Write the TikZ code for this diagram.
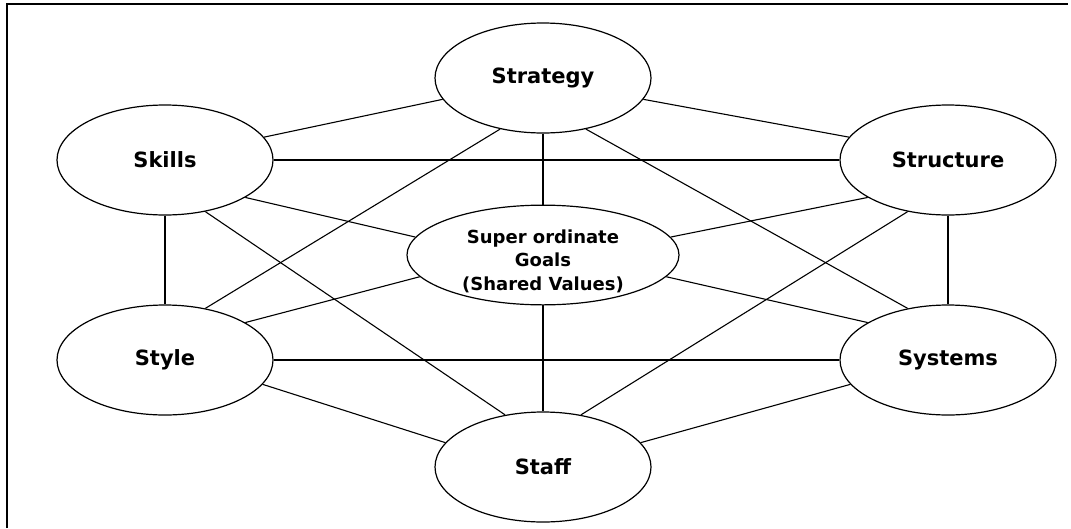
\documentclass[tikz,border=0pt]{standalone}
\usepackage{fontspec}
\setmainfont{DejaVu Sans}
\usepackage{tikz}
\usetikzlibrary{shapes.geometric}

\tikzset{
  sbox/.style={draw, ellipse, line width=1.2pt, minimum width=216pt, minimum height=110pt,
    inner sep=0pt, font=\bfseries\fontsize{21}{25}\selectfont},
  goalbox/.style={draw, ellipse, line width=1.2pt, minimum width=272pt, minimum height=95pt,
    inner sep=0pt, font=\bfseries\fontsize{18}{23.5}\selectfont},
  link/.style={line width=1.1pt}
}

\begin{document}
\begin{tikzpicture}[x=1pt, y=-1pt]
	\useasboundingbox (0,0) rectangle (1071,528);
	\draw[line width=2pt] (7,528) -- (7,4) -- (1068,4);
	\node[sbox] (strategy) at (543,78) {Strategy};
	\node[sbox] (skills) at (165,160) {Skills};
	\node[sbox] (structure) at (948,160) {Structure};
	\node[goalbox] (goals) at (543,255) {\raisebox{-7pt}[\height][\depth]{\begin{tabular}{@{}c@{}}Super ordinate\\Goals\\(Shared Values)\end{tabular}}};
	\node[sbox] (style) at (165,360) {Style};
	\node[sbox] (systems) at (948,360) {Systems};
	\node[sbox] (staff) at (543,467) {Staff};
	% outer ring
	\draw[link] (skills.13) -- (strategy.192);
	\draw[link] (structure.167) -- (strategy.348);
	\draw[link] (skills) -- (style);
	\draw[link] (structure) -- (systems);
	\draw[link] (style.346) -- (staff.166);
	\draw[link] (systems.194) -- (staff.14);
	% cross links
	\draw[link] (skills) -- (structure);
	\draw[link] (style) -- (systems);
	\draw[link] (strategy.230) -- (style.52);
	\draw[link] (strategy.310) -- (systems.128);
	\draw[link] (skills.308) -- (staff.126);
	\draw[link] (structure.232) -- (staff.54);
	% to the goals
	\draw[link] (strategy) -- (goals);
	\draw[link] (goals) -- (staff);
	\draw[link] (skills.335) -- (goals.172);
	\draw[link] (structure.205) -- (goals.8);
	\draw[link] (goals.190) -- (style.25);
	\draw[link] (goals.350) -- (systems.155);
\end{tikzpicture}
\end{document}
